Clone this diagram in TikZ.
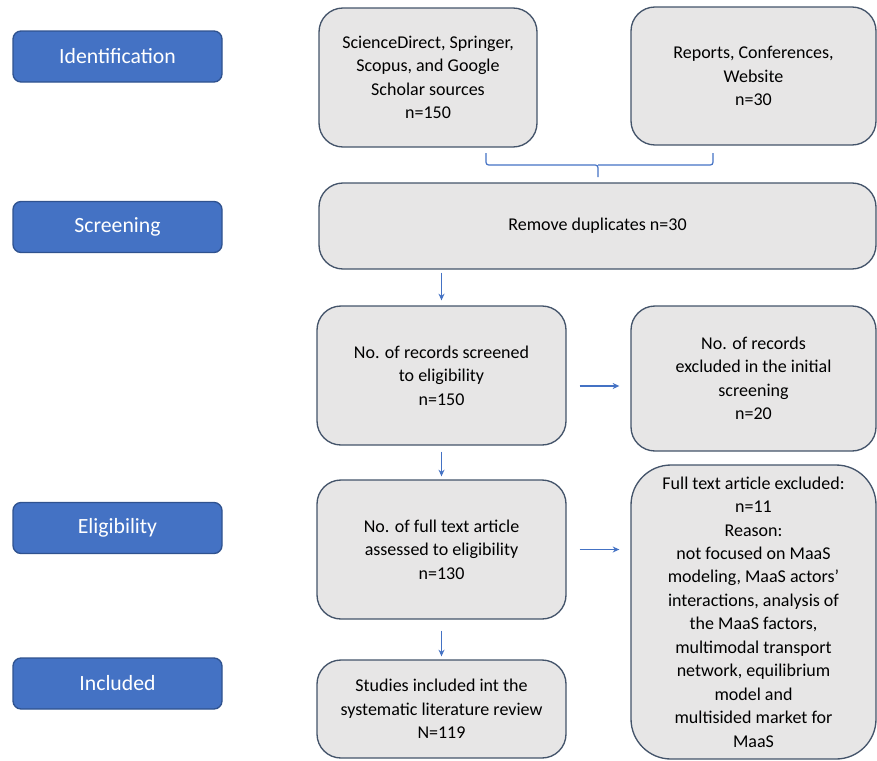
\documentclass[tikz,border=0pt]{standalone}
\usepackage{fontspec}
\setmainfont{Carlito}
\usetikzlibrary{arrows.meta,calc}
\definecolor{gfill}{HTML}{E7E6E6}
\definecolor{gline}{HTML}{44546A}
\definecolor{bfill}{HTML}{4472C4}
\definecolor{bline}{HTML}{2F528F}
\definecolor{acol}{HTML}{4472C4}
\begin{document}
\begin{tikzpicture}[x=0.75pt,y=-0.75pt,
  sz/.style 2 args={minimum width=#1*0.75pt, minimum height=#2*0.75pt},
  gbox/.style={draw=gline, fill=gfill, line width=1pt, rounded corners=18pt, align=center, inner sep=0pt, font=\fontsize{13.5}{17.6}\selectfont},
  bbox/.style={draw=bline, fill=bfill, line width=1pt, rounded corners=6pt, text=white, font=\fontsize{16.3}{19}\selectfont, sz={209}{51}, inner sep=0pt},
  arr/.style={draw=acol, line width=0.9pt, -{Stealth[length=5pt,width=4.5pt]}}]
\useasboundingbox (0,0) rectangle (877,760);

% stage labels
\node[bbox] (l1) at (117.5,56.5) {Identification};
\node[bbox] (l2) at (117.5,227) {Screening};
\node[bbox] (l3) at (117.5,528) {Eligibility};
\node[bbox] (l4) at (117.5,683.5) {Included};

% boxes
\node[gbox, sz={218}{139}] (A) at (428,77.5) {ScienceDirect, Springer,\\ Scopus, and Google\\ Scholar sources\\ n=150};
\node[gbox, sz={245}{138}] (B) at (753.5,76) {Reports, Conferences,\\ Website\\ n=30};
\node[gbox, sz={557}{86}] (C) at (597.5,226) {Remove duplicates n=30};
\node[gbox, sz={249}{139}] (D) at (441.5,375.5) {No. of records screened\\ to eligibility\\ n=150};
\node[gbox, sz={245}{145}] (E) at (753.5,378.5) {No. of records\\ excluded in the initial\\ screening\\ n=20};
\node[gbox, sz={249}{139}] (F) at (441.5,549.5) {No. of full text article\\ assessed to eligibility\\ n=130};
\node[gbox, sz={245}{294}, rounded corners=30pt] (G) at (753.5,612) {Full text article excluded:\\ n=11\\ Reason:\\ not focused on MaaS\\ modeling, MaaS actors’\\ interactions, analysis of\\ the MaaS factors,\\ multimodal transport\\ network, equilibrium\\ model and\\ multisided market for\\ MaaS};
\node[gbox, sz={249}{98}] (H) at (441.5,709) {Studies included int the\\ systematic literature review\\ N=119};

% brace joining the two sources
\draw[acol, line width=0.9pt, rounded corners=2pt] (486,153) |- (598,165) -- (598,177);
\draw[acol, line width=0.9pt, rounded corners=2pt] (713,153) |- (598,165);

% arrows
\coordinate (d1) at ($(D.east)+(0,10.5)$);
\draw[arr, shorten <=2.25pt, shorten >=3.75pt] (C.south -| D.north) -- (D.north);
\draw[arr, shorten <=4.5pt, shorten >=2.25pt] (D.south) -- (F.north);
\draw[arr, shorten <=8.25pt, shorten >=2.25pt] (F.south) -- (H.north);
\draw[arr, shorten <=9.75pt, shorten >=8.25pt] (d1) -- (d1 -| E.west);
\draw[arr, shorten <=9.75pt, shorten >=8.25pt] (F.east) -- (F.east -| G.west);
\end{tikzpicture}
\end{document}
